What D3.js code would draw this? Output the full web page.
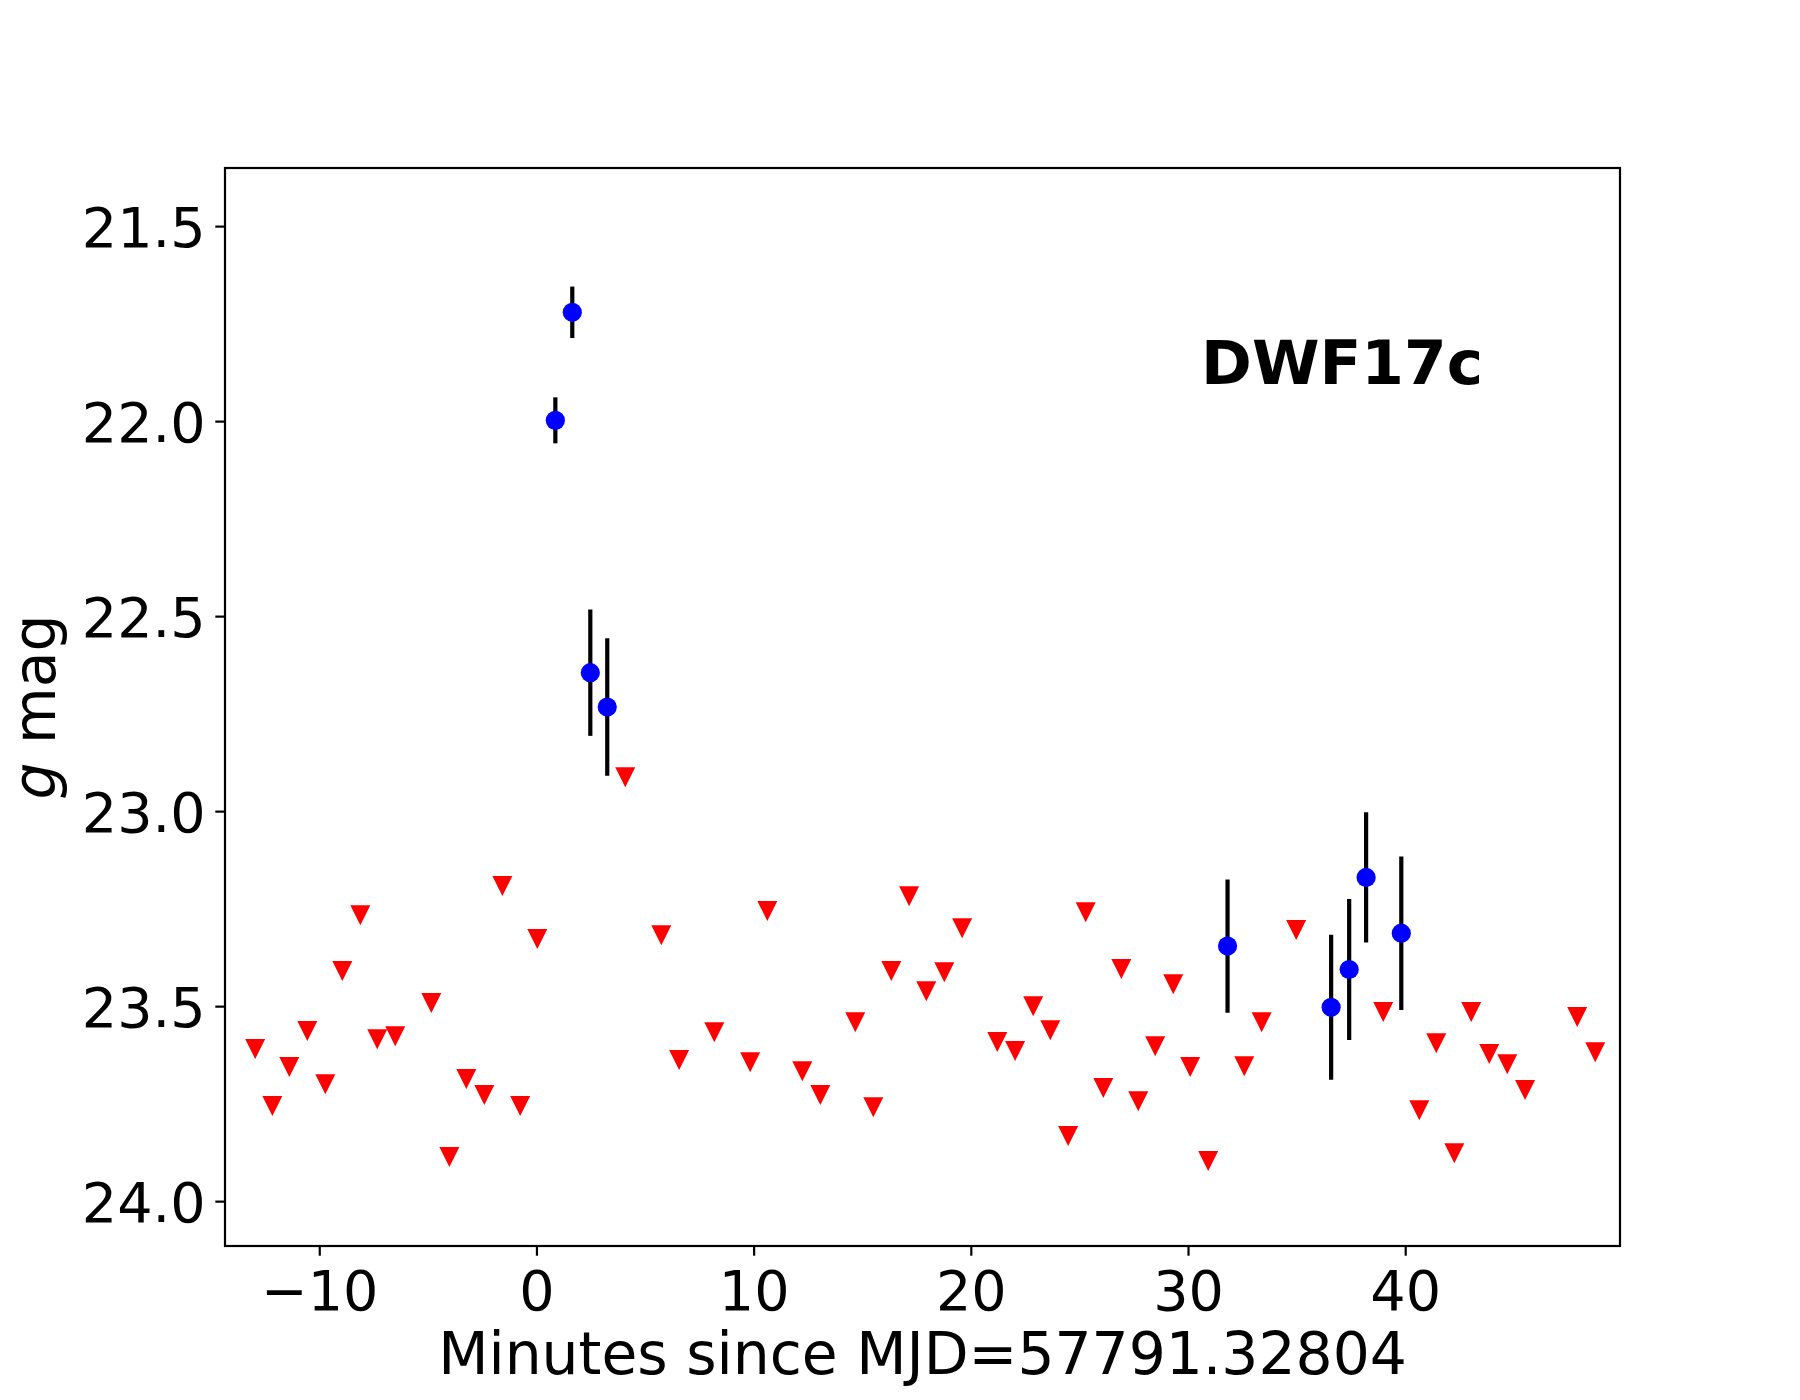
<!DOCTYPE html>
<html>
<head>
<meta charset="utf-8">
<script src="https://cdn.jsdelivr.net/npm/d3@7"></script>
<style>
  body { margin: 0; background: #fff; }
  svg text { font-family: "DejaVu Sans", sans-serif; }
</style>
</head>
<body>
<div id="chart"></div>
<script>
// detections (minutes since MJD, g mag, 1-sigma error)
const detTime = [0.87, 1.65, 2.48, 3.26, 31.82, 36.59, 37.42, 38.20, 39.82];
const detMag  = [21.998, 21.721, 22.645, 22.733, 23.346, 23.503, 23.406, 23.170, 23.313];
const detErr  = [0.059, 0.066, 0.162, 0.176, 0.171, 0.186, 0.181, 0.167, 0.197];

// upper limits
const limTime = [-12.95, -12.16, -11.38, -10.55, -9.72, -8.94, -8.11, -7.33, -6.50, -4.84,
                 -4.01, -3.23, -2.40, -1.57, -0.75, 0.04, 4.09, 5.75, 6.57, 8.19,
                 9.84, 10.63, 12.24, 13.07, 14.68, 15.51, 16.34, 17.16, 17.95, 18.78,
                 19.60, 21.22, 22.04, 22.87, 23.66, 24.48, 25.29, 26.10, 26.93, 27.71,
                 28.49, 29.32, 30.10, 30.93, 32.59, 33.39, 34.98, 38.99, 40.65, 41.43,
                 42.26, 43.04, 43.87, 44.70, 45.52, 47.92, 48.75];
const limMag  = [23.610, 23.756, 23.656, 23.564, 23.700, 23.410, 23.267, 23.585, 23.577, 23.492,
                 23.887, 23.687, 23.728, 23.192, 23.756, 23.328, 22.913, 23.318, 23.638, 23.567,
                 23.644, 23.256, 23.667, 23.728, 23.541, 23.759, 23.410, 23.218, 23.462, 23.413,
                 23.300, 23.592, 23.615, 23.500, 23.562, 23.833, 23.259, 23.710, 23.405, 23.744,
                 23.603, 23.444, 23.656, 23.897, 23.654, 23.541, 23.305, 23.515, 23.767, 23.595,
                 23.877, 23.515, 23.623, 23.649, 23.715, 23.528, 23.618];

const xTicks = [-10, 0, 10, 20, 30, 40];
const yTicks = [21.5, 22.0, 22.5, 23.0, 23.5, 24.0];

const W = 1800, H = 1400;
const margin = {left: 225, right: 180, top: 168, bottom: 154};
const iw = W - margin.left - margin.right;
const ih = H - margin.top - margin.bottom;

const svg = d3.select("#chart").append("svg")
    .attr("width", W)
    .attr("height", H);

const g = svg.append("g")
    .attr("transform", "translate(" + margin.left + "," + margin.top + ")");

const x = d3.scaleLinear().domain([-14.34, 49.89]).range([0, iw]);
const y = d3.scaleLinear().domain([21.351, 24.115]).range([0, ih]); // magnitudes inverted

const dets = detTime.map((t, i) => ({t: t, m: detMag[i], e: detErr[i]}));
const lims = limTime.map((t, i) => ({t: t, m: limMag[i]}));

// upper limits (down triangles)
g.append("g").selectAll("path")
    .data(lims)
    .enter().append("path")
    .attr("d", d => {
        const cx = x(d.t), cy = y(d.m);
        return "M" + (cx - 10) + "," + (cy - 10) + "L" + (cx + 10) + "," + (cy - 10) + "L" + cx + "," + (cy + 10) + "Z";
    })
    .attr("fill", "#ff0000");

// error bars
g.append("g").selectAll("line")
    .data(dets)
    .enter().append("line")
    .attr("x1", d => x(d.t))
    .attr("x2", d => x(d.t))
    .attr("y1", d => y(d.m - d.e))
    .attr("y2", d => y(d.m + d.e))
    .attr("stroke", "#000")
    .attr("stroke-width", 4.2);

// detections
g.append("g").selectAll("circle")
    .data(dets)
    .enter().append("circle")
    .attr("cx", d => x(d.t))
    .attr("cy", d => y(d.m))
    .attr("r", 9.6)
    .attr("fill", "#0000ff");

// axes
const xAxis = g.append("g")
    .attr("transform", "translate(0," + ih + ")")
    .call(d3.axisBottom(x).tickValues(xTicks).tickSize(9.7).tickSizeOuter(0).tickPadding(14.5));
const yAxis = g.append("g")
    .call(d3.axisLeft(y).tickValues(yTicks).tickFormat(d3.format(".1f")).tickSize(9.7).tickSizeOuter(0).tickPadding(9.7));

[xAxis, yAxis].forEach(a => {
    a.select(".domain").remove();
    a.selectAll(".tick line").attr("stroke", "#000").attr("stroke-width", 2.2);
    a.selectAll(".tick text")
        .attr("fill", "#000")
        .style("font-family", "'DejaVu Sans', sans-serif")
        .style("font-size", "55.6px");
});
yAxis.selectAll(".tick text").attr("dy", "0.36em");

// frame
g.append("rect")
    .attr("width", iw)
    .attr("height", ih)
    .attr("fill", "none")
    .attr("stroke", "#000")
    .attr("stroke-width", 2.2);

// labels
svg.append("text")
    .attr("x", margin.left + iw / 2)
    .attr("y", 1374)
    .attr("text-anchor", "middle")
    .style("font-size", "58.3px")
    .text("Minutes since MJD=57791.32804");

const yl = svg.append("text")
    .attr("transform", "translate(55," + (margin.top + ih / 2) + ")rotate(-90)")
    .attr("text-anchor", "middle")
    .style("font-size", "58.3px");
yl.append("tspan").style("font-style", "italic").text("g");
yl.append("tspan").text(" mag");

svg.append("text")
    .attr("x", 1201)
    .attr("y", 384)
    .style("font-size", "61.3px")
    .style("font-weight", "bold")
    .text("DWF17c");
</script>
</body>
</html>
